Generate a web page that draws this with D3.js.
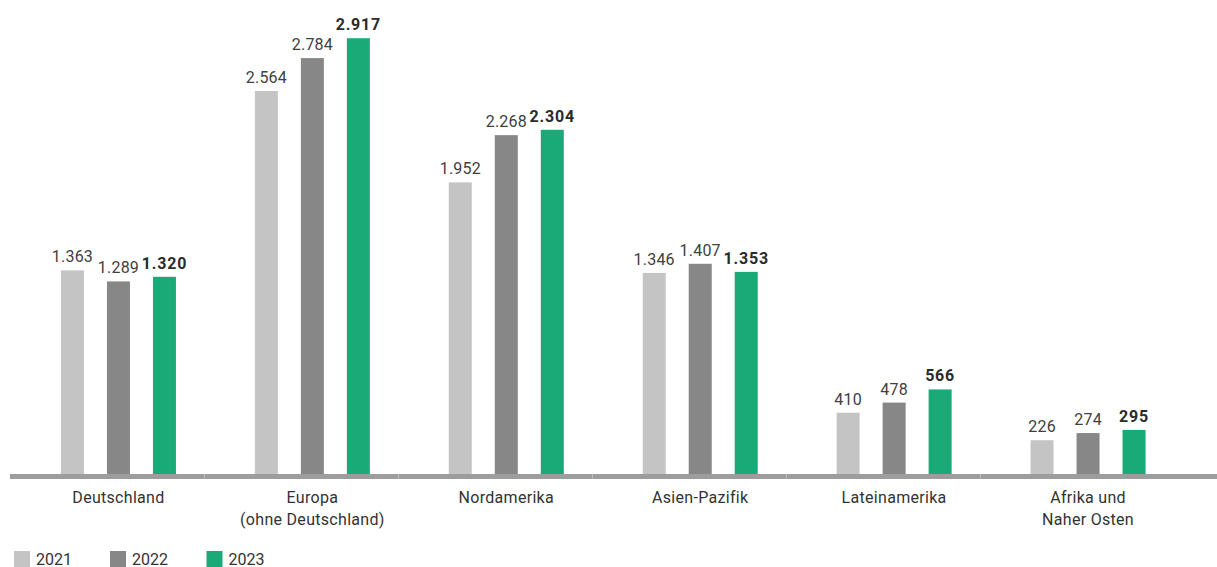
<!DOCTYPE html>
<html>
<head>
<meta charset="utf-8">
<script src="https://cdn.jsdelivr.net/npm/d3@7"></script>
<style>
  html, body { margin: 0; padding: 0; background: #fff; }
  svg { display: block; }
  text { font-family: Roboto, "Open Sans", sans-serif; }
</style>
</head>
<body>
<svg id="chart" width="1217" height="567"></svg>
<script>
const categories = [
  ["Deutschland"],
  ["Europa", "(ohne Deutschland)"],
  ["Nordamerika"],
  ["Asien-Pazifik"],
  ["Lateinamerika"],
  ["Afrika und", "Naher Osten"]
];
const years = ["2021", "2022", "2023"];
const values2021 = [1363, 2564, 1952, 1346, 410, 226];
const values2022 = [1289, 2784, 2268, 1407, 478, 274];
const values2023 = [1320, 2917, 2304, 1353, 566, 295];
const seriesValues = [values2021, values2022, values2023];
const colors = ["#c4c4c4", "#878787", "#19aa78"];

const svg = d3.select("#chart");
const W = 1217;
const baseY = 474;

const catKeys = categories.map(c => c.join(" "));
const x0 = d3.scaleBand().domain(catKeys).range([21.5, 1185]).padding(0);
const x1 = d3.scaleBand().domain(years).range([0, 138]).paddingInner(0.5).paddingOuter(0.25);
const y = d3.scaleLinear().domain([0, 3000]).range([baseY, baseY - 3000 * 0.1494]);
const sep = d3.scaleBand().domain(catKeys).range([10, 10 + 6 * 194]);

const groupStart = k => x0(k) + x0.bandwidth() / 2 - 69;

// bars
const groups = svg.append("g").selectAll("g")
  .data(catKeys).join("g")
  .attr("transform", k => `translate(${groupStart(k)},0)`);

groups.each(function(k, ci) {
  const g = d3.select(this);
  years.forEach((yr, si) => {
    const v = seriesValues[si][ci];
    g.append("rect")
      .attr("x", x1(yr))
      .attr("y", y(v))
      .attr("width", x1.bandwidth())
      .attr("height", baseY - y(v))
      .attr("fill", colors[si]);
    g.append("text")
      .attr("x", x1(yr) + x1.bandwidth() / 2)
      .attr("y", y(v) - 8)
      .attr("text-anchor", "middle")
      .attr("font-size", 16)
      .attr("letter-spacing", si === 2 ? "0.8px" : "0.2px")
      .attr("font-weight", si === 2 ? 700 : 400)
      .attr("fill", si === 2 ? "#2b2b2b" : "#404040")
      .text(d3.format(",")(v).replace(/,/g, "."));
  });
});

// axis line
svg.append("rect")
  .attr("x", 10).attr("y", baseY)
  .attr("width", W - 10).attr("height", 5)
  .attr("fill", "#9d9d9d");
svg.append("g").selectAll("line")
  .data(catKeys.slice(1)).join("line")
  .attr("x1", k => sep(k) + 0.5).attr("x2", k => sep(k) + 0.5)
  .attr("y1", baseY).attr("y2", baseY + 5)
  .attr("stroke", "#bcbcbc").attr("stroke-width", 1);

// category labels
categories.forEach((lines, ci) => {
  const cx = x0(catKeys[ci]) + x0.bandwidth() / 2;
  const t = svg.append("text")
    .attr("x", cx).attr("y", 503)
    .attr("text-anchor", "middle")
    .attr("font-size", 16)
    .attr("letter-spacing", "0.3px")
    .attr("fill", "#333");
  lines.forEach((ln, li) => {
    t.append("tspan").attr("x", cx).attr("dy", li === 0 ? 0 : 22).text(ln);
  });
});

// legend
const legendX = [14, 110, 206.5];
years.forEach((yr, i) => {
  svg.append("rect")
    .attr("x", legendX[i]).attr("y", 551)
    .attr("width", 16).attr("height", 16)
    .attr("fill", colors[i]);
  svg.append("text")
    .attr("x", legendX[i] + 22).attr("y", 564.5)
    .attr("font-size", 16)
    .attr("fill", "#333")
    .text(yr);
});
</script>
</body>
</html>
